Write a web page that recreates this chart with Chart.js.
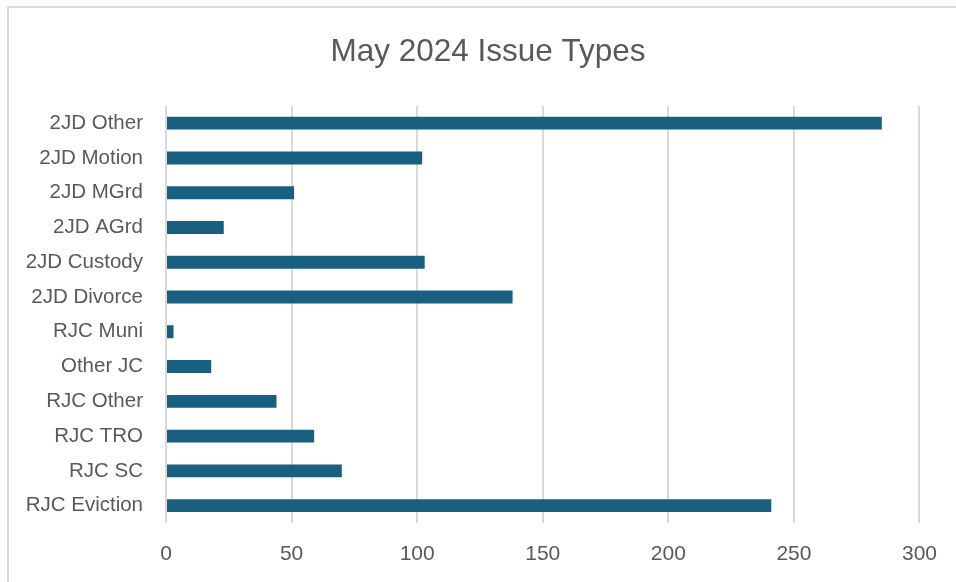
<!DOCTYPE html>
<html>
<head>
<meta charset="utf-8">
<script src="https://cdn.jsdelivr.net/npm/chart.js@4.4.1/dist/chart.umd.min.js"></script>
<style>
  html, body { margin: 0; padding: 0; background: #fff; }
  #wrap { position: relative; width: 956px; height: 582px; overflow: hidden; }
  #frame { position: absolute; left: 7px; top: 6px; width: 960px; height: 600px; border: 2px solid #d9d9d9; box-sizing: border-box; }
  #chartIssues { position: absolute; left: 0; top: 0; }
</style>
</head>
<body>
<div id="wrap">
  <div id="frame"></div>
  <canvas id="chartIssues" width="956" height="582"></canvas>
</div>
<script>
// Du lieu bieu do
const categories = ["2JD Other", "2JD Motion", "2JD MGrd", "2JD AGrd", "2JD Custody", "2JD Divorce",
  "RJC Muni", "Other JC", "RJC Other", "RJC TRO", "RJC SC", "RJC Eviction"];
const counts = [285, 102, 51, 23, 103, 138, 3, 18, 44, 59, 70, 241];
const xTicks = [0, 50, 100, 150, 200, 250, 300];

const textColor = "#595959";
const fontFamily = "'Liberation Sans', Arial, sans-serif";

// title sits a bit right of the middle in the original
const shiftTitle = {
  id: "shiftTitle",
  afterLayout(chart) {
    const t = chart.titleBlock;
    if (t) { t.left += 20; t.right += 20; }
  }
};

const ctx = document.getElementById("chartIssues");
new Chart(ctx, {
  type: "bar",
  data: {
    labels: categories,
    datasets: [{
      label: "Issue Types",
      data: counts,
      backgroundColor: "#185f80",
      borderWidth: 0,
      categoryPercentage: 1,
      barPercentage: 0.37
    }]
  },
  options: {
    indexAxis: "y",
    responsive: false,
    animation: false,
    layout: { padding: { left: 16, right: 36, top: 0, bottom: 9 } },
    plugins: {
      legend: { display: false },
      tooltip: { enabled: false },
      title: {
        display: true,
        text: "May 2024 Issue Types",
        color: textColor,
        font: { family: fontFamily, size: 31.5, weight: "normal" },
        padding: { top: 33, bottom: 35 }
      }
    },
    scales: {
      x: {
        min: 0,
        max: 300,
        afterBuildTicks: s => { s.ticks = xTicks.map(v => ({ value: v })); },
        afterFit: s => { s.height = 50; },
        border: { display: false },
        grid: { color: "#d9d9d9", lineWidth: 2, drawTicks: false },
        ticks: { color: textColor, padding: 19, font: { family: fontFamily, size: 21 } }
      },
      y: {
        afterFit: s => { s.width = 150; },
        border: { display: false },
        grid: { display: false, drawTicks: false },
        ticks: { color: textColor, padding: 23, font: { family: fontFamily, size: 20.5 } }
      }
    }
  },
  plugins: [shiftTitle]
});
</script>
</body>
</html>
